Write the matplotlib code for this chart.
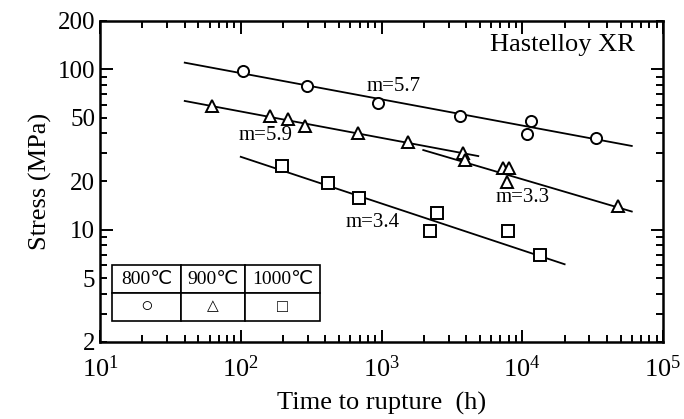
import matplotlib
matplotlib.use("Agg")
import matplotlib.pyplot as plt
from matplotlib.ticker import LogLocator, FixedLocator, FixedFormatter, NullFormatter

plt.rcParams['font.family'] = ['Liberation Serif', 'DejaVu Sans']
plt.rcParams['mathtext.fontset'] = 'stix'

# 800C : time to rupture (h) / stress (MPa)
t800 = [104, 297, 950, 3600, 11500, 10800, 33400]
s800 = [98, 79, 62, 51.4, 47.8, 39.5, 37.2]
fit800_t = [40, 60000]
fit800_s = [110, 33.3]

# 900C
t900 = [62, 161, 218, 286, 684, 1550, 3780, 3920, 7330, 8090, 7830, 48100]
s900 = [59, 51.2, 49.3, 44.3, 39.9, 35.1, 30.2, 27.2, 24.2, 24.4, 19.9, 14.1]
fit900a_t = [40, 4870]
fit900a_s = [63.5, 28.8]
fit900b_t = [1980, 60000]
fit900b_s = [31.4, 13.0]

# 1000C
t1000 = [195, 415, 695, 2470, 2210, 7960, 13400]
s1000 = [25.0, 19.7, 15.7, 12.8, 9.8, 9.8, 7.0]
fit1000_t = [100, 20000]
fit1000_s = [28.5, 6.1]

# slope labels
m_text = ['m=5.7', 'm=5.9', 'm=3.3', 'm=3.4']
m_t = [1230, 149, 10100, 870]
m_s = [77.8, 38.6, 15.9, 11.1]

ytick_vals = [2, 5, 10, 20, 50, 100, 200]
legend_head = ['800℃', '900℃', '1000℃']
legend_sym = ['○', '△', '□']
sym_size = [15, 11, 13]

fig = plt.figure(figsize=(6.84, 4.19), dpi=100)
ax = fig.add_axes([0.1462, 0.1838, 0.8231, 0.7661])
ax.set_xscale('log')
ax.set_yscale('log')
ax.set_xlim(10, 1e5)
ax.set_ylim(2, 200)

lw = 1.3
ax.plot(fit800_t, fit800_s, color='black', lw=lw)
ax.plot(fit900a_t, fit900a_s, color='black', lw=lw)
ax.plot(fit900b_t, fit900b_s, color='black', lw=lw)
ax.plot(fit1000_t, fit1000_s, color='black', lw=lw)

mk = dict(linestyle='none', mfc='white', mec='black', mew=1.4, ms=8, zorder=3)
ax.plot(t800, s800, marker='o', **mk)
ax.plot(t900, s900, marker='^', **mk)
ax.plot(t1000, s1000, marker='s', **mk)

for txt, x, y in zip(m_text, m_t, m_s):
    ax.text(x, y, txt, fontsize=15, ha='center', va='center')

ax.text(0.95, 0.924, 'Hastelloy XR', transform=ax.transAxes, fontsize=19,
        ha='right', va='center')

# y ticks: long ticks on decades, labels on 2-5-10 series
ax.yaxis.set_major_locator(FixedLocator([10, 100]))
ax.yaxis.set_major_formatter(FixedFormatter(['10', '100']))
ax.yaxis.set_minor_locator(LogLocator(base=10, subs=range(2, 10)))
ax.yaxis.set_minor_formatter(matplotlib.ticker.FuncFormatter(
    lambda v, p: str(int(round(v))) if int(round(v)) in ytick_vals else ''))
ax.xaxis.set_minor_locator(LogLocator(base=10, subs=range(2, 10)))
ax.xaxis.set_minor_formatter(NullFormatter())

ax.tick_params(which='both', direction='in', top=True, right=True,
               labelsize=18, width=1.4)
ax.tick_params(which='major', length=9)
ax.tick_params(which='minor', length=5)
ax.tick_params(axis='x', which='major', pad=10, labelsize=19)
for sp in ax.spines.values():
    sp.set_linewidth(1.8)

ax.set_xlabel('Time to rupture  (h)', fontsize=19, labelpad=7)
ax.set_ylabel('Stress (MPa)', fontsize=19)

tab = ax.table(cellText=[legend_head, legend_sym], cellLoc='center',
               colWidths=[0.332, 0.308, 0.361],
               bbox=[0.0213, 0.0653, 0.3694, 0.174])
tab.auto_set_font_size(False)
tab.set_fontsize(14)
for (r, c), cell in tab.get_celld().items():
    cell.set_linewidth(1.2)
    cell.get_text().set_fontfamily(['Liberation Serif', 'DejaVu Sans'])
    if r == 1:
        cell.get_text().set_fontsize(sym_size[c])
        cell.get_text().set_fontweight('bold')

fig.savefig('out.png', dpi=100)
